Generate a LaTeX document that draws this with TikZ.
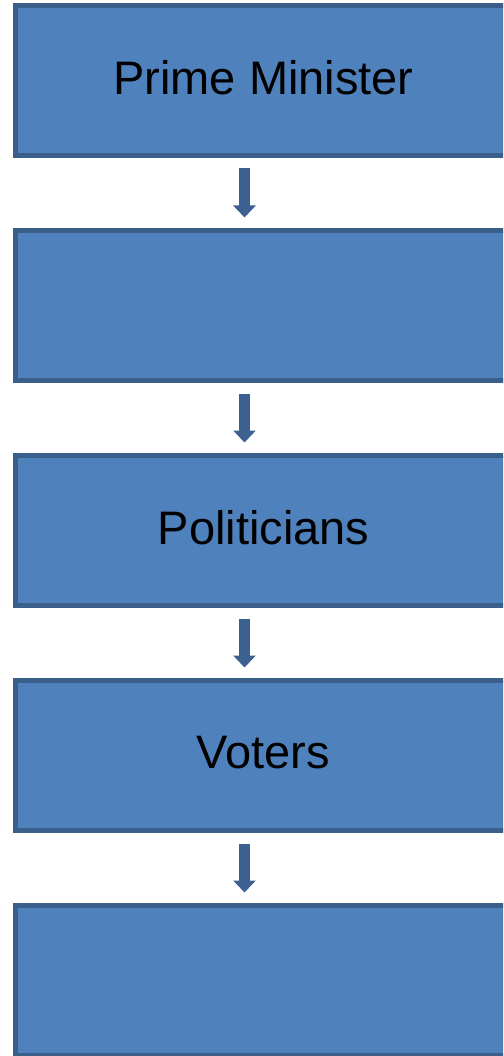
\documentclass[tikz,border=0pt]{standalone}
\usepackage{fontspec}
\setmainfont{Liberation Sans}
\usetikzlibrary{arrows.meta}
\definecolor{boxfill}{HTML}{4F81BD}
\definecolor{boxline}{HTML}{3A5F8B}
\definecolor{arrowcol}{HTML}{3C6090}
\begin{document}
\begin{tikzpicture}[x=1pt,y=-1pt,
  stepbox/.style={draw=boxline, fill=boxfill, line width=5pt,
    minimum width=497pt, minimum height=150pt, inner sep=0pt,
    text depth=7pt,
    font=\fontsize{47}{56}\selectfont, text=black},
  flow/.style={draw=arrowcol, line width=11pt,
    -{Triangle[width=22pt,length=12pt]}, arrowcol}]
\useasboundingbox (0,0) rectangle (503,1056);
\clip (0,0) rectangle (503,1056);
\node[stepbox] (b1) at (263.5,80.5) {Prime Minister};
\node[stepbox] (b2) at (263.5,305.5) {};
\node[stepbox] (b3) at (263.5,530.5) {Politicians};
\node[stepbox] (b4) at (263.5,755.5) {Voters};
\node[stepbox] (b5) at (263.5,980.5) {};
\foreach \a/\b in {b1/b2,b2/b3,b3/b4,b4/b5}
  \draw[flow] ([xshift=-19pt,yshift=-10.5pt]\a.south) -- ([xshift=-19pt,yshift=10.5pt]\b.north);
\end{tikzpicture}
\end{document}
